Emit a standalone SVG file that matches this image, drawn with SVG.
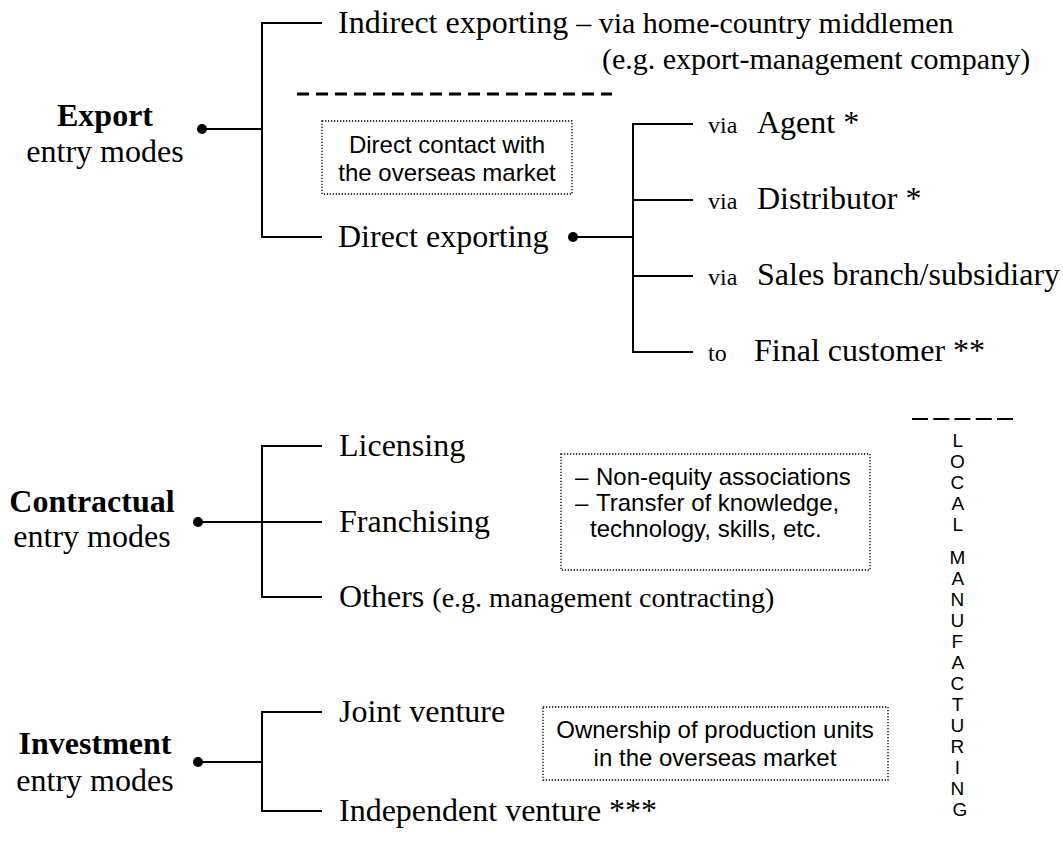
<svg xmlns="http://www.w3.org/2000/svg" width="1063" height="841" viewBox="0 0 1063 841">
  <style>
    .bg { fill: #ffffff; }
    .ln { stroke: #000; stroke-width: 2; fill: none; }
    .dot { fill: #000; }
    .serif { font-family: "Liberation Serif", "Times New Roman", serif; font-size: 32px; fill: #000; }
    .paren { font-family: "Liberation Serif", "Times New Roman", serif; font-size: 30px; fill: #000; }
    .small { font-family: "Liberation Serif", "Times New Roman", serif; font-size: 24px; fill: #000; }
    .bold { font-weight: bold; }
    .sans { font-family: "Liberation Sans", Arial, sans-serif; font-size: 24px; fill: #000; }
    .letters { font-family: "Liberation Sans", Arial, sans-serif; font-size: 19px; fill: #000; text-anchor: middle; }
    .note { fill: none; stroke: #000; stroke-width: 1.3; stroke-dasharray: 1.3 1.7; }
    .mid { text-anchor: middle; }
  </style>
  <rect class="bg" x="0" y="0" width="1063" height="841"/>

  <!-- connectors -->
  <g id="connectors">
    <!-- export tree -->
    <path class="ln" d="M202 129 H262 M322 23 H262 V237 H322"/>
    <path class="ln" d="M573 237 H633 M693 124 H633 V352 H693 M633 200 H693 M633 276 H693"/>
    <line x1="297" y1="94" x2="612" y2="94" stroke="#000" stroke-width="3" stroke-dasharray="12 7"/>
    <!-- contractual tree -->
    <path class="ln" d="M198 522 H322 M322 446 H262 V597 H322"/>
    <!-- investment tree -->
    <path class="ln" d="M198 762 H262 M322 712 H262 V811 H322"/>
    <circle class="dot" cx="202" cy="129" r="5"/>
    <circle class="dot" cx="573" cy="237" r="5"/>
    <circle class="dot" cx="198" cy="522" r="5"/>
    <circle class="dot" cx="198" cy="762" r="5"/>
  </g>

  <!-- export entry modes -->
  <g id="export">
    <text class="serif bold mid" x="105" y="126">Export</text>
    <text class="serif mid" x="105" y="162">entry modes</text>
  </g>
  <g id="indirect">
    <text y="33"><tspan class="serif" x="338">Indirect exporting </tspan><tspan class="paren">– via home-country middlemen</tspan></text>
    <text class="paren" x="602" y="69">(e.g. export-management company)</text>
  </g>
  <g id="note-direct">
    <rect class="note" x="322" y="121" width="250" height="73"/>
    <text class="sans mid" x="447" y="153">Direct contact with</text>
    <text class="sans mid" x="447" y="181">the overseas market</text>
  </g>
  <g id="direct">
    <text class="serif" x="338" y="247">Direct exporting</text>
  </g>
  <g id="agent">
    <text x="708" y="133"><tspan class="small">via</tspan><tspan class="serif" x="757">Agent *</tspan></text>
  </g>
  <g id="distributor">
    <text x="708" y="209"><tspan class="small">via</tspan><tspan class="serif" x="757">Distributor *</tspan></text>
  </g>
  <g id="sales-branch">
    <text x="708" y="285"><tspan class="small">via</tspan><tspan class="serif" x="757">Sales branch/subsidiary</tspan></text>
  </g>
  <g id="final-customer">
    <text x="708" y="361"><tspan class="small">to</tspan><tspan class="serif" x="754">Final customer **</tspan></text>
  </g>

  <!-- contractual entry modes -->
  <g id="contractual">
    <text class="serif bold mid" x="92" y="512">Contractual</text>
    <text class="serif mid" x="92" y="547">entry modes</text>
  </g>
  <g id="licensing"><text class="serif" x="339" y="456">Licensing</text></g>
  <g id="franchising"><text class="serif" x="339" y="532">Franchising</text></g>
  <g id="others"><text y="607"><tspan class="serif" x="339">Others </tspan><tspan class="paren" style="font-size:28px">(e.g. management contracting)</tspan></text></g>
  <g id="note-contractual">
    <rect class="note" x="561" y="454" width="309" height="116"/>
    <text class="sans" y="485"><tspan x="575">–</tspan><tspan x="596">Non-equity associations</tspan></text>
    <text class="sans" y="511"><tspan x="575">–</tspan><tspan x="596">Transfer of knowledge,</tspan></text>
    <text class="sans" x="590" y="537">technology, skills, etc.</text>
  </g>

  <!-- investment entry modes -->
  <g id="investment">
    <text class="serif bold mid" x="95" y="754">Investment</text>
    <text class="serif mid" x="95" y="791">entry modes</text>
  </g>
  <g id="joint-venture"><text class="serif" x="339" y="722">Joint venture</text></g>
  <g id="independent-venture"><text class="serif" x="339" y="821">Independent venture ***</text></g>
  <g id="note-investment">
    <rect class="note" x="543" y="707" width="345" height="73"/>
    <text class="sans mid" x="715" y="738">Ownership of production units</text>
    <text class="sans mid" x="715" y="766">in the overseas market</text>
  </g>

  <!-- local manufacturing column -->
  <g id="local-manufacturing">
    <line x1="912" y1="419" x2="1013" y2="419" stroke="#000" stroke-width="2" stroke-dasharray="16 5.25"/>
    <text class="letters">
      <tspan x="960" y="447">L</tspan>
      <tspan x="960" y="468">O</tspan>
      <tspan x="960" y="489">C</tspan>
      <tspan x="960" y="510">A</tspan>
      <tspan x="960" y="531">L</tspan>
      <tspan x="960" y="564">M</tspan>
      <tspan x="960" y="585">A</tspan>
      <tspan x="960" y="606">N</tspan>
      <tspan x="960" y="627">U</tspan>
      <tspan x="960" y="648">F</tspan>
      <tspan x="960" y="669">A</tspan>
      <tspan x="960" y="690">C</tspan>
      <tspan x="960" y="711">T</tspan>
      <tspan x="960" y="732">U</tspan>
      <tspan x="960" y="753">R</tspan>
      <tspan x="960" y="774">I</tspan>
      <tspan x="960" y="795">N</tspan>
      <tspan x="960" y="816">G</tspan>
    </text>
  </g>
</svg>
